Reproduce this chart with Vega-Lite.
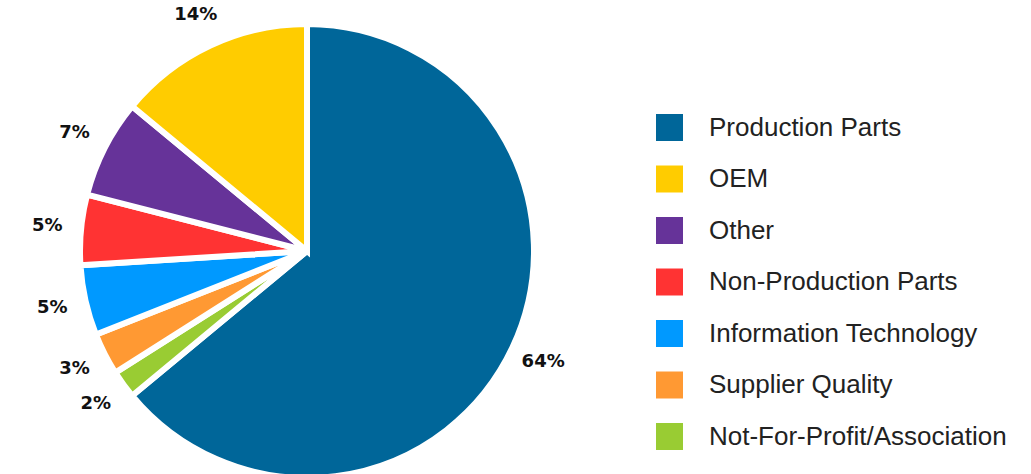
{
  "$schema": "https://vega.github.io/schema/vega-lite/v6.json",
  "width": 614,
  "height": 502,
  "autosize": {"type": "none"},
  "padding": {"left": 0, "top": 0, "right": 417, "bottom": 0},
  "background": "white",
  "view": {"stroke": null},
  "data": {
    "values": [
      {"category": "Production Parts", "share": 64, "label": "64%", "seq": 1},
      {"category": "Not-For-Profit/Association", "share": 2, "label": "2%", "seq": 2},
      {"category": "Supplier Quality", "share": 3, "label": "3%", "seq": 3},
      {"category": "Information Technology", "share": 5, "label": "5%", "seq": 4},
      {"category": "Non-Production Parts", "share": 5, "label": "5%", "seq": 5},
      {"category": "Other", "share": 7, "label": "7%", "seq": 6},
      {"category": "OEM", "share": 14, "label": "14%", "seq": 7}
    ]
  },
  "encoding": {
    "theta": {"field": "share", "type": "quantitative", "stack": true},
    "order": {"field": "seq", "type": "quantitative", "sort": "ascending"}
  },
  "layer": [
    {
      "mark": {"type": "arc", "outerRadius": 227, "stroke": "white", "strokeWidth": 6},
      "encoding": {
        "color": {
          "field": "category",
          "type": "nominal",
          "scale": {
            "domain": ["Production Parts", "OEM", "Other", "Non-Production Parts", "Information Technology", "Supplier Quality", "Not-For-Profit/Association"],
            "range": ["#006699", "#FFCC00", "#663399", "#FF3333", "#0099FF", "#FF9933", "#99CC33"]
          },
          "legend": {
            "title": null,
            "orient": "none",
            "legendX": 656,
            "legendY": 114,
            "padding": 0,
            "symbolType": "square",
            "symbolSize": 729,
            "symbolStrokeWidth": 0,
            "symbolOpacity": 1,
            "labelFont": "Liberation Sans",
            "labelFontSize": 26,
            "labelColor": "#222222",
            "labelOffset": 26,
            "rowPadding": 24.5,
            "labelLimit": 400
          }
        }
      }
    },
    {
      "mark": {"type": "text", "radius": 261, "font": "DejaVu Sans", "fontWeight": "bold", "fontSize": 18, "color": "#111111", "align": "center", "baseline": "middle", "letterSpacing": 0.5},
      "encoding": {
        "text": {"field": "label", "type": "nominal"}
      }
    }
  ]
}
